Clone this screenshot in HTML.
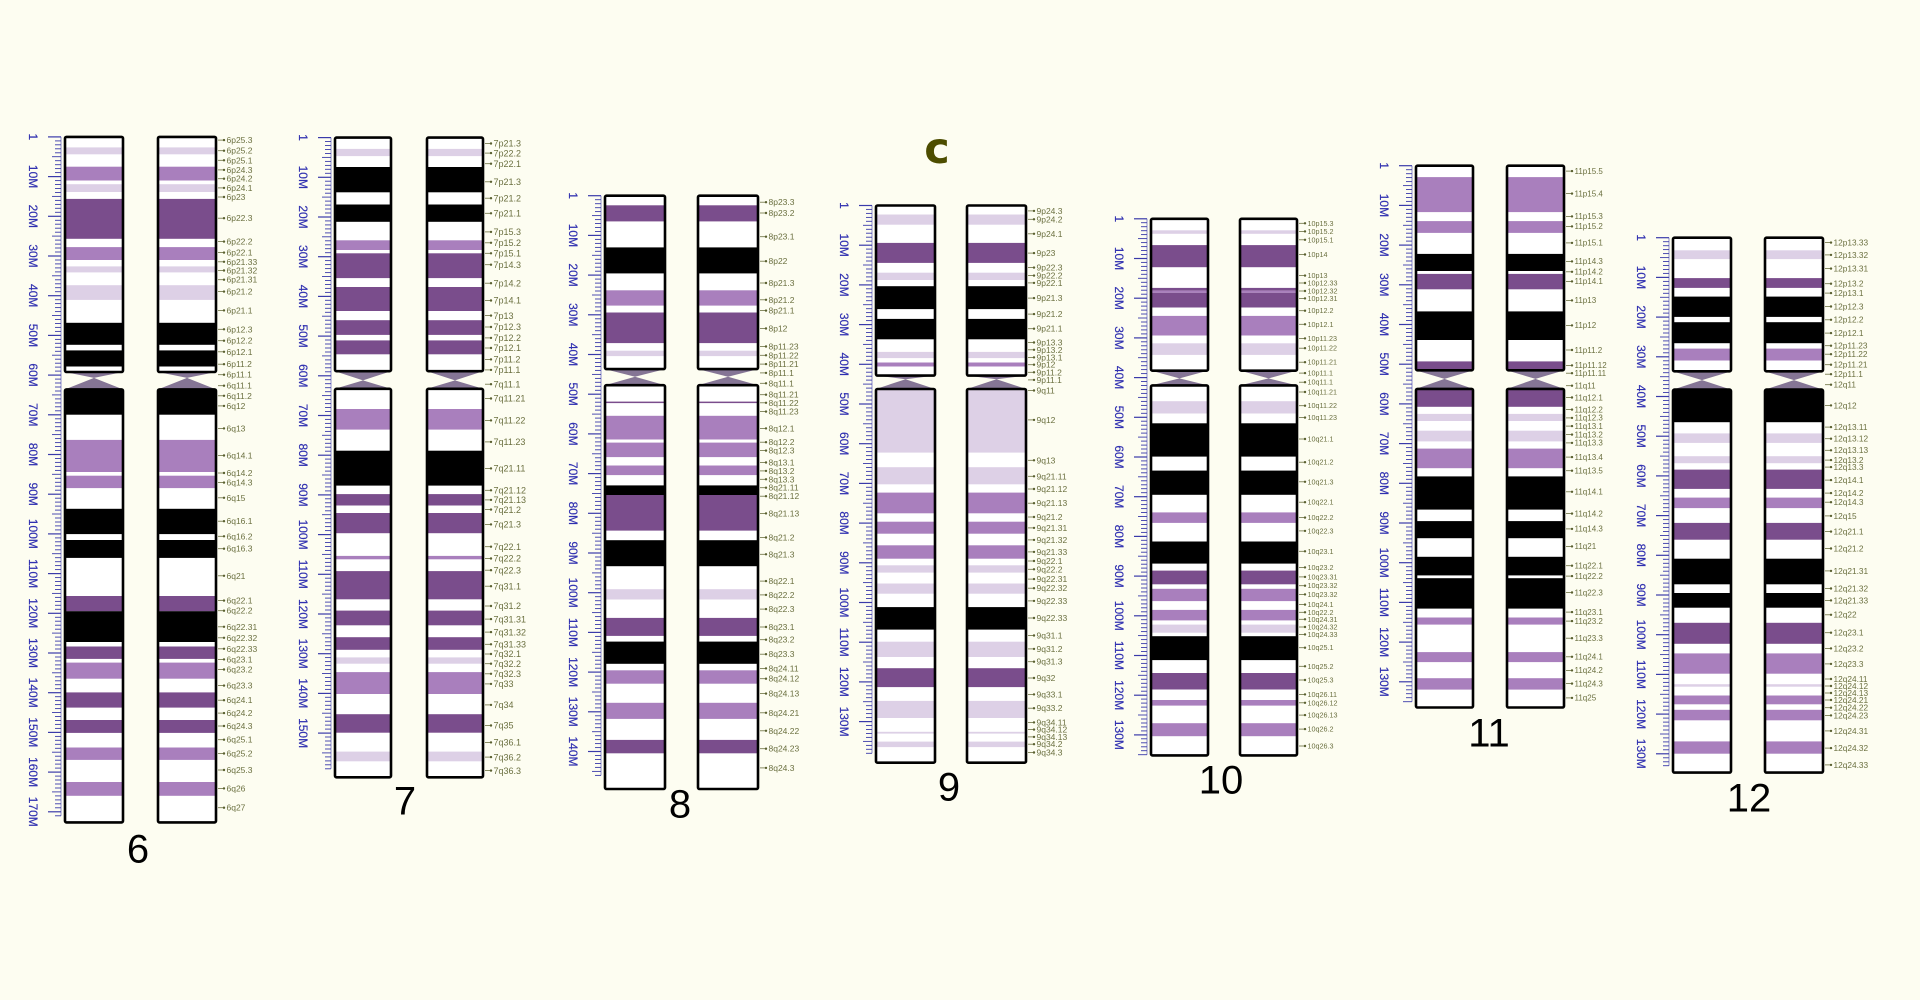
<!DOCTYPE html>
<html><head><meta charset="utf-8"><style>
html,body{margin:0;padding:0;background:#fdfdf1;}
svg{display:block}
</style></head><body>
<svg id="s" xmlns="http://www.w3.org/2000/svg" width="1920" height="1000" viewBox="0 0 1920 1000">
<rect width="1920" height="1000" fill="#fdfdf1"/>
<text x="937" y="163" font-family="DejaVu Sans, sans-serif" font-weight="bold" font-size="43" fill="#4d4d00" text-anchor="middle">c</text>
</svg>
<script>
var C={w:'#ffffff',l:'#ddd0e6',m:'#a97fbd',d:'#7a4d8c',k:'#000000'};
var chroms=[
{y0:130,s:2.178,xL:65,xR:158,w:58,top:15,pe:527,cm:540,qs:565,bot:1508,max:171,fs:8.5,num:'6',nx:138,ny:848,
b:'15-38w,38-53l,53-80w,80-110m,110-118w,118-135l,135-150w,150-237d,237-255w,255-283m,283-297w,297-310l,310-338w,338-370l,370-420w,420-468k,468-480w,480-515k,515-527w,565-620k,620-675w,675-745m,745-753w,753-780m,780-825w,825-880k,880-893w,893-932k,932-1015w,1015-1048d,1048-1115k,1115-1125w,1125-1152d,1152-1160w,1160-1195m,1195-1225w,1225-1258d,1258-1285w,1285-1313d,1313-1345w,1345-1372m,1372-1420w,1420-1450m,1450-1508w',
t:'22 6p25.3,45 6p25.2,66 6p25.1,87 6p24.3,106 6p24.2,126 6p24.1,146 6p23,192 6p22.3,243 6p22.2,267 6p22.1,287 6p21.33,306 6p21.32,326 6p21.31,352 6p21.2,393 6p21.1,434 6p12.3,459 6p12.2,483 6p12.1,510 6p11.2,533 6p11.1,557 6q11.1,579 6q11.2,601 6q12,650 6q13,709 6q14.1,747 6q14.2,768 6q14.3,801 6q15,852 6q16.1,885 6q16.2,912 6q16.3,971 6q21,1025 6q22.1,1047 6q22.2,1082 6q22.31,1106 6q22.32,1130 6q22.33,1153 6q23.1,1175 6q23.2,1210 6q23.3,1242 6q24.1,1270 6q24.2,1298 6q24.3,1328 6q25.1,1358 6q25.2,1394 6q25.3,1434 6q26,1476 6q27'},
{y0:130,s:2.376,xL:335,xR:427,w:56,top:18,pe:573,cm:595,qs:615,bot:1538,max:159,fs:9,num:'7',nx:405,ny:800,
b:'18-45w,45-62l,62-88w,88-148k,148-177w,177-218k,218-262w,262-285m,285-293w,293-352d,352-373w,373-430d,430-452w,452-487d,487-500w,500-533d,533-573w,615-663w,663-712m,712-762w,762-845k,845-865w,865-892d,892-910w,910-958d,958-1012w,1012-1020m,1020-1048w,1048-1115d,1115-1142w,1142-1177d,1177-1205w,1205-1235d,1235-1253w,1253-1268l,1268-1288w,1288-1340m,1340-1388w,1388-1432d,1432-1477w,1477-1500l,1500-1538w',
t:'32 7p21.3,55 7p22.2,80 7p22.1,123 7p21.3,162 7p21.2,198 7p21.1,242 7p15.3,268 7p15.2,293 7p15.1,320 7p14.3,364 7p14.2,405 7p14.1,441 7p13,468 7p12.3,494 7p12.2,518 7p12.1,545 7p11.2,570 7p11.1,604 7q11.1,638 7q11.21,690 7q11.22,741 7q11.23,804 7q21.11,856 7q21.12,879 7q21.13,902 7q21.2,937 7q21.3,990 7q22.1,1018 7q22.2,1046 7q22.3,1084 7q31.1,1131 7q31.2,1162 7q31.31,1193 7q31.32,1222 7q31.33,1245 7q32.1,1268 7q32.2,1292 7q32.3,1316 7q33,1366 7q34,1415 7q35,1455 7q36.1,1490 7q36.2,1522 7q36.3'},
{y0:190,s:2.613,xL:605,xR:698,w:60,top:15,pe:468,cm:488,qs:510,bot:1565,max:146,fs:8.5,num:'8',nx:680,ny:803,
b:'15-40w,40-82d,82-150w,150-218k,218-262w,262-302m,302-320w,320-400d,400-420w,420-434l,434-468w,510-553w,553-557d,557-590w,590-652m,652-660w,660-698m,698-720w,720-745m,745-772w,772-797k,797-890d,890-915w,915-983k,983-1043w,1043-1070l,1070-1118w,1118-1165d,1165-1180w,1180-1238k,1238-1255w,1255-1290m,1290-1340w,1340-1382m,1382-1437w,1437-1472d,1472-1565w',
t:'32 8p23.3,60 8p23.2,122 8p23.1,186 8p22,243 8p21.3,287 8p21.2,315 8p21.1,362 8p12,409 8p11.23,432 8p11.22,455 8p11.21,478 8p11.1,505 8q11.1,535 8q11.21,556 8q11.22,579 8q11.23,623 8q12.1,659 8q12.2,681 8q12.3,712 8q13.1,734 8q13.2,756 8q13.3,778 8q21.11,800 8q21.12,845 8q21.13,908 8q21.2,952 8q21.3,1022 8q22.1,1058 8q22.2,1095 8q22.3,1142 8q23.1,1175 8q23.2,1213 8q23.3,1250 8q24.11,1277 8q24.12,1316 8q24.13,1366 8q24.21,1413 8q24.22,1460 8q24.23,1510 8q24.3'},
{y0:200,s:2.751,xL:876,xR:967,w:59,top:15,pe:483,cm:493,qs:520,bot:1548,max:138,fs:8.5,num:'9',nx:949,ny:786,
b:'15-40w,40-68l,68-118w,118-173d,173-200w,200-220l,220-237w,237-300k,300-327w,327-383k,383-418w,418-435l,435-447w,447-458m,458-483w,520-695l,695-735w,735-782l,782-805w,805-862m,862-885w,885-918m,918-950w,950-987m,987-1005w,1005-1025l,1025-1055w,1055-1083l,1083-1120w,1120-1182k,1182-1215w,1215-1257l,1257-1288w,1288-1340d,1340-1378w,1378-1425l,1425-1463w,1463-1468l,1468-1490w,1490-1505l,1505-1548w',
t:'30 9p24.3,53 9p24.2,93 9p24.1,146 9p23,186 9p22.3,208 9p22.2,228 9p22.1,270 9p21.3,314 9p21.2,354 9p21.1,392 9p13.3,412 9p13.2,433 9p13.1,453 9p12,474 9p11.2,495 9p11.1,524 9q11,605 9q12,716 9q13,760 9q21.11,795 9q21.12,834 9q21.13,872 9q21.2,902 9q21.31,935 9q21.32,968 9q21.33,993 9q22.1,1016 9q22.2,1043 9q22.31,1068 9q22.32,1103 9q22.33,1150 9q22.33,1198 9q31.1,1235 9q31.2,1270 9q31.3,1315 9q32,1360 9q33.1,1398 9q33.2,1437 9q34.11,1457 9q34.12,1477 9q34.13,1497 9q34.2,1520 9q34.3'},
{y0:210,s:2.851,xL:1151,xR:1240,w:57,top:25,pe:458,cm:480,qs:500,bot:1555,max:135,fs:7.2,num:'10',nx:1221,ny:779,
b:'25-58w,58-68l,68-100w,100-163d,163-222w,222-230d,230-236m,236-278d,278-302w,302-358m,358-380w,380-413l,413-458w,500-545w,545-580l,580-608w,608-703k,703-743w,743-812k,812-862w,862-892m,892-945w,945-1008k,1008-1028w,1028-1067d,1067-1080w,1080-1115m,1115-1140w,1140-1170m,1170-1182w,1182-1205l,1205-1215w,1215-1283k,1283-1320w,1320-1367d,1367-1397w,1397-1413m,1413-1463w,1463-1500m,1500-1555w',
t:'38 10p15.3,61 10p15.2,85 10p15.1,127 10p14,187 10p13,208 10p12.33,231 10p12.32,252 10p12.31,287 10p12.2,326 10p12.1,366 10p11.23,394 10p11.22,434 10p11.21,465 10p11.1,491 10q11.1,519 10q11.21,558 10q11.22,592 10q11.23,653 10q21.1,719 10q21.2,775 10q21.3,833 10q22.1,877 10q22.2,915 10q22.3,973 10q23.1,1019 10q23.2,1046 10q23.31,1071 10q23.32,1096 10q23.32,1125 10q24.1,1147 10q22.2,1167 10q24.31,1189 10q24.32,1210 10q24.33,1248 10q25.1,1301 10q25.2,1340 10q25.3,1381 10q26.11,1405 10q26.12,1440 10q26.13,1480 10q26.2,1528 10q26.3'},
{y0:155,s:2.8,xL:1416,xR:1507,w:57,top:30,pe:603,cm:627,qs:655,bot:1547,max:135,fs:8,num:'11',nx:1489,ny:732,
b:'30-62w,62-160m,160-185w,185-218m,218-277w,277-325k,325-333w,333-376d,376-438w,438-518k,518-578w,578-603d,655-705d,705-725w,725-745l,745-772w,772-802l,802-822w,822-877m,877-900w,900-993k,993-1025w,1025-1073k,1073-1125w,1125-1177k,1177-1185w,1185-1270k,1270-1295w,1295-1315m,1315-1392w,1392-1420m,1420-1465w,1465-1497m,1497-1547w',
t:'45 11p15.5,108 11p15.4,172 11p15.3,200 11p15.2,246 11p15.1,298 11p14.3,327 11p14.2,354 11p14.1,407 11p13,477 11p12,546 11p11.2,589 11p11.12,611 11p11.11,646 11q11,679 11q12.1,713 11q12.2,736 11q12.3,759 11q13.1,783 11q13.2,806 11q13.3,846 11q13.4,884 11q13.5,943 11q14.1,1004 11q14.2,1047 11q14.3,1096 11q21,1150 11q22.1,1179 11q22.2,1225 11q22.3,1280 11q23.1,1305 11q23.2,1353 11q23.3,1405 11q24.1,1443 11q24.2,1480 11q24.3,1520 11q25'},
{y0:230,s:2.851,xL:1673,xR:1765,w:58,top:22,pe:403,cm:428,qs:455,bot:1547,max:133,fs:8.3,num:'12',nx:1749,ny:797,
b:'22-58w,58-83l,83-137w,137-165d,165-190w,190-248k,248-263w,263-323k,323-338w,338-372m,372-403w,455-548k,548-580w,580-607l,607-645w,645-665l,665-683w,683-738d,738-763w,763-793m,793-835w,835-883d,883-937w,937-1010k,1010-1035w,1035-1077k,1077-1120w,1120-1180d,1180-1207w,1207-1265m,1265-1295w,1295-1302l,1302-1327w,1327-1352m,1352-1368w,1368-1398m,1398-1458w,1458-1493m,1493-1547w',
t:'36 12p13.33,71 12p13.32,110 12p13.31,153 12p13.2,180 12p13.1,218 12p12.3,256 12p12.2,294 12p12.1,330 12p11.23,354 12p11.22,384 12p11.21,411 12p11.1,441 12q11,500 12q12,562 12q13.11,595 12q13.12,628 12q13.13,656 12q13.2,676 12q13.3,713 12q14.1,750 12q14.2,776 12q14.3,815 12q15,860 12q21.1,908 12q21.2,972 12q21.31,1022 12q21.32,1056 12q21.33,1097 12q22,1148 12q23.1,1193 12q23.2,1237 12q23.3,1280 12q24.11,1300 12q24.12,1320 12q24.13,1340 12q24.21,1362 12q24.22,1384 12q24.23,1428 12q24.31,1477 12q24.32,1525 12q24.33'}
];
var o='';
function f(n){return n.toFixed(1);}
chroms.forEach(function(c){
  var Y=function(z){return c.y0+z/c.s;};
  var top=Y(c.top),pe=Y(c.pe),cm=Y(c.cm),qs=Y(c.qs),bot=Y(c.bot);
  [c.xL,c.xR].forEach(function(x){
    o+='<rect x="'+x+'" y="'+f(top)+'" width="'+c.w+'" height="'+f(pe-top)+'" fill="#fff"/>';
    o+='<rect x="'+x+'" y="'+f(qs)+'" width="'+c.w+'" height="'+f(bot-qs)+'" fill="#fff"/>';
    c.b.split(',').forEach(function(s){
      var m=s.match(/(\d+)-(\d+)(\w)/);var t=m[3];if(t=='w')return;
      var a=Y(+m[1]),b=Y(+m[2]);
      o+='<rect x="'+(x+1)+'" y="'+f(a)+'" width="'+(c.w-2)+'" height="'+f(b-a)+'" fill="'+C[t]+'"/>';
    });
    o+='<polygon points="'+x+','+f(pe)+' '+(x+c.w)+','+f(pe)+' '+(x+c.w/2)+','+f(cm)+'" fill="#857595"/>';
    o+='<polygon points="'+x+','+f(qs)+' '+(x+c.w)+','+f(qs)+' '+(x+c.w/2)+','+f(cm)+'" fill="#857595"/>';
    o+='<rect x="'+x+'" y="'+f(top)+'" width="'+c.w+'" height="'+f(pe-top)+'" fill="none" stroke="#000" stroke-width="2.6" rx="1.5"/>';
    o+='<rect x="'+x+'" y="'+f(qs)+'" width="'+c.w+'" height="'+f(bot-qs)+'" fill="none" stroke="#000" stroke-width="2.6" rx="1.5"/>';
  });
  var lx=c.xR+c.w+2;
  c.t.split(',').forEach(function(s){
    var p=s.split(' ');var y=Y(+p[0]);
    o+='<line x1="'+lx+'" y1="'+f(y)+'" x2="'+(lx+6)+'" y2="'+f(y)+'" stroke="#6b7040" stroke-width="0.8"/>';
    o+='<circle cx="'+(lx+6)+'" cy="'+f(y)+'" r="1.2" fill="#5a6030"/>';
    o+='<text x="'+(lx+8.5)+'" y="'+f(y)+'" dy="0.35em" font-size="'+c.fs+'" fill="#6b7040" font-family="Liberation Sans, sans-serif">'+p[1]+'</text>';
  });
  var rr=c.xL-4, per=3.97;
  o+='<line x1="'+rr+'" y1="'+f(top)+'" x2="'+rr+'" y2="'+f(top+c.max*per)+'" stroke="#4040b0" stroke-width="0.6"/>';
  for(var i=0;i<=c.max;i++){
    var y=top+i*per,len=(i%10==0)?13:(i%5==0?9:6);
    if(i==0)len=13;
    o+='<line x1="'+(rr-len)+'" y1="'+f(y)+'" x2="'+rr+'" y2="'+f(y)+'" stroke="#3a3aaa" stroke-width="'+(i%10==0?1.2:0.9)+'"/>';
    if(i%10==0){
      var lab=i==0?'1':(i+'M');var tx=c.xL-32;
      o+='<text x="'+tx+'" y="'+f(y)+'" transform="rotate(90 '+tx+' '+f(y)+')" text-anchor="middle" dy="0.35em" font-size="12" fill="#3030b0" stroke="#3030b0" stroke-width="0.2" font-family="Liberation Sans, sans-serif">'+lab+'</text>';
    }
  }
  o+='<text x="'+c.nx+'" y="'+c.ny+'" dy="0.36em" text-anchor="middle" font-size="40" fill="#000" font-family="Liberation Sans, DejaVu Sans, sans-serif">'+c.num+'</text>';
});
document.getElementById('s').insertAdjacentHTML('beforeend',o);
</script>
</body></html>
